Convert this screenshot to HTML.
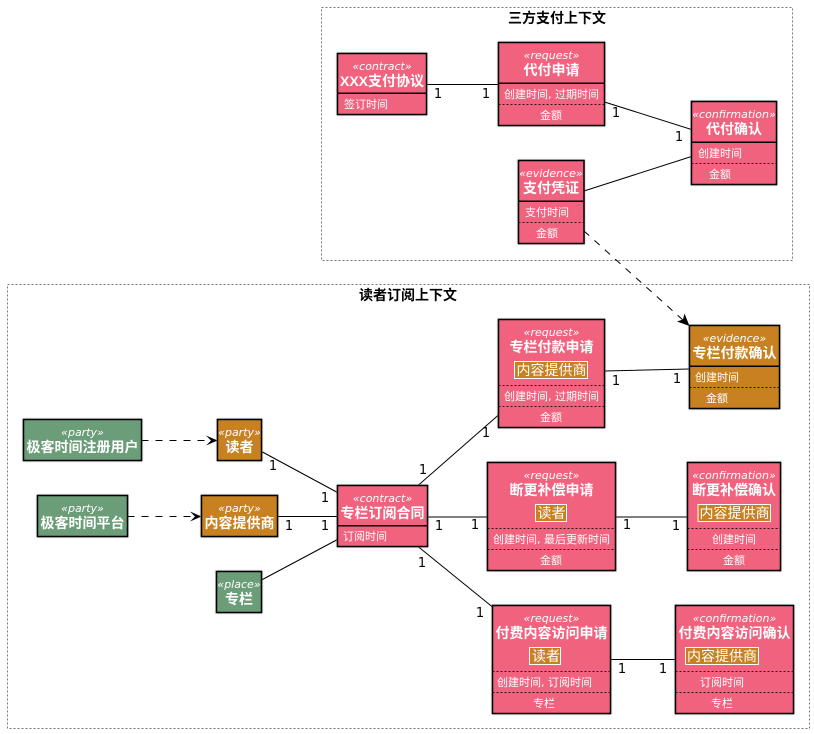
<!DOCTYPE html>
<html><head><meta charset="utf-8"><style>
html,body{margin:0;padding:0;background:#fff;width:814px;height:734px;overflow:hidden}
svg{display:block}
text{font-family:"DejaVu Sans","WenQuanYi Zen Hei","Noto Sans CJK SC",sans-serif;text-anchor:middle}
.s{font-size:11px;font-style:italic;fill:#fff}
.t{font-size:14px;font-weight:bold;fill:#fff}
.a{font-size:11px;fill:#fff}
.tg{font-size:14px;fill:#fff}
.n{font-size:13px;fill:#000}
.f{font-size:14px;font-weight:bold;fill:#000}
rect.p{fill:#F1627E;stroke:#000;stroke-width:1.5;filter:drop-shadow(0 0 .7px #777)}
rect.o{fill:#C88121;stroke:#000;stroke-width:1.5;filter:drop-shadow(0 0 .7px #777)}
rect.g{fill:#6B9D78;stroke:#000;stroke-width:1.5;filter:drop-shadow(0 0 .7px #777)}
rect.h{fill:#C88121;stroke:#fff;stroke-width:1}
.d{stroke:#000;stroke-width:1.5;transform:translateY(.25px)}
.q{stroke:#000;stroke-width:1;stroke-dasharray:2 2;transform:translateY(.5px);opacity:.8}
.l{stroke:#000;stroke-width:1;fill:none}
.x{stroke:#000;stroke-width:1;stroke-dasharray:7 7;fill:none}
.fr{fill:none;stroke:#777;stroke-width:1;stroke-dasharray:2 2}
</style></head><body>
<svg width="814" height="734" viewBox="0 0 814 734" xmlns="http://www.w3.org/2000/svg">
<rect class="fr" x="321.5" y="7.5" width="471" height="253"/>
<text class="f" x="557" y="23">三方支付上下文</text>
<rect class="fr" x="7.5" y="284.5" width="802" height="444"/>
<text class="f" x="408" y="300">读者订阅上下文</text>

<!-- connectors -->
<path class="l" d="M426.5 84.5H498.5M604.5 102L691.5 129.5M584 191L691.5 156.5M604.5 371L689.5 369M418 485.5L498.5 415M427.5 517H487.5M615.5 517H687.5M418 546.5L492.5 607M610.5 659.5H675.5M261.5 451.5L337.5 492.5M277.5 516.5H337.5M261.5 580L337.5 539.5"/>
<path class="x" d="M584 231L684 321M141.5 440.5H212M127.5 516.5H196"/>
<path d="M689.5 326L677 321.5L683 319.5L684.5 313.5Z" fill="#000"/>
<path d="M217.5 440.5L206 435.5L211 440.5L206 445.5Z" fill="#000"/>
<path d="M201.5 516.5L190 511.5L195 516.5L190 521.5Z" fill="#000"/>

<!-- XXX支付协议 -->
<rect class="p" x="337.5" y="53.5" width="89" height="61"/>
<line class="d" x1="337.5" y1="93" x2="426.5" y2="93"/>
<text class="s" x="382" y="70">«contract»</text>
<text class="t" x="382" y="86"><tspan font-family="'Liberation Sans'">XXX</tspan>支付协议</text>
<text class="a" x="366" y="108">签订时间</text>

<!-- 代付申请 -->
<rect class="p" x="498.5" y="42.5" width="106" height="83"/>
<line class="d" x1="498.5" y1="83" x2="604.5" y2="83"/>
<line class="q" x1="498.5" y1="104" x2="604.5" y2="104"/>
<text class="s" x="551.5" y="59">«request»</text>
<text class="t" x="551.5" y="75">代付申请</text>
<text class="a" x="551.5" y="98">创建时间, 过期时间</text>
<text class="a" x="551" y="119">金额</text>

<!-- 代付确认 -->
<rect class="p" x="691.5" y="101.5" width="85" height="83"/>
<line class="d" x1="691.5" y1="142" x2="776.5" y2="142"/>
<line class="q" x1="691.5" y1="163" x2="776.5" y2="163"/>
<text class="s" x="734" y="118">«confirmation»</text>
<text class="t" x="734" y="134">代付确认</text>
<text class="a" x="720" y="157">创建时间</text>
<text class="a" x="720" y="178">金额</text>

<!-- 支付凭证 -->
<rect class="p" x="518.5" y="160.5" width="65.5" height="83"/>
<line class="d" x1="518.5" y1="201" x2="584" y2="201"/>
<line class="q" x1="518.5" y1="222" x2="584" y2="222"/>
<text class="s" x="551" y="177">«evidence»</text>
<text class="t" x="551" y="193">支付凭证</text>
<text class="a" x="547" y="216">支付时间</text>
<text class="a" x="547" y="237">金额</text>

<!-- 专栏付款申请 -->
<rect class="p" x="498.5" y="319.5" width="106" height="108"/>
<line class="q" x1="498.5" y1="385" x2="604.5" y2="385"/>
<line class="q" x1="498.5" y1="406" x2="604.5" y2="406"/>
<text class="s" x="551.5" y="336">«request»</text>
<text class="t" x="551.5" y="352">专栏付款申请</text>
<rect class="h" x="514.5" y="361.5" width="73" height="17"/>
<text class="tg" x="551.5" y="375">内容提供商</text>
<text class="a" x="551.5" y="400">创建时间, 过期时间</text>
<text class="a" x="551" y="421">金额</text>

<!-- 专栏付款确认 -->
<rect class="o" x="689.5" y="325.5" width="90" height="83"/>
<line class="d" x1="689.5" y1="366" x2="779.5" y2="366"/>
<line class="q" x1="689.5" y1="387" x2="779.5" y2="387"/>
<text class="s" x="734.5" y="342">«evidence»</text>
<text class="t" x="734.5" y="358">专栏付款确认</text>
<text class="a" x="717" y="381">创建时间</text>
<text class="a" x="717" y="402">金额</text>

<!-- 断更补偿申请 -->
<rect class="p" x="487.5" y="462.5" width="128" height="108"/>
<line class="q" x1="487.5" y1="528" x2="615.5" y2="528"/>
<line class="q" x1="487.5" y1="549" x2="615.5" y2="549"/>
<text class="s" x="551.5" y="479">«request»</text>
<text class="t" x="551.5" y="495">断更补偿申请</text>
<rect class="h" x="535.5" y="504.5" width="31" height="17"/>
<text class="tg" x="551.5" y="518">读者</text>
<text class="a" x="551.5" y="543">创建时间, 最后更新时间</text>
<text class="a" x="551" y="564">金额</text>

<!-- 断更补偿确认 -->
<rect class="p" x="687.5" y="462.5" width="93" height="108"/>
<line class="q" x1="687.5" y1="528" x2="780.5" y2="528"/>
<line class="q" x1="687.5" y1="549" x2="780.5" y2="549"/>
<text class="s" x="734" y="479">«confirmation»</text>
<text class="t" x="734" y="495">断更补偿确认</text>
<rect class="h" x="698" y="504.5" width="72.5" height="17"/>
<text class="tg" x="734.5" y="518">内容提供商</text>
<text class="a" x="734" y="543">创建时间</text>
<text class="a" x="734" y="564">金额</text>

<!-- 付费内容访问申请 -->
<rect class="p" x="492.5" y="605.5" width="118" height="108"/>
<line class="q" x1="492.5" y1="671" x2="610.5" y2="671"/>
<line class="q" x1="492.5" y1="692" x2="610.5" y2="692"/>
<text class="s" x="551.5" y="622">«request»</text>
<text class="t" x="551.5" y="638">付费内容访问申请</text>
<rect class="h" x="529.5" y="647.5" width="31" height="17"/>
<text class="tg" x="546" y="661">读者</text>
<text class="a" x="544.5" y="686">创建时间, 订阅时间</text>
<text class="a" x="544" y="707">专栏</text>

<!-- 付费内容访问确认 -->
<rect class="p" x="675.5" y="605.5" width="118" height="108"/>
<line class="q" x1="675.5" y1="671" x2="793.5" y2="671"/>
<line class="q" x1="675.5" y1="692" x2="793.5" y2="692"/>
<text class="s" x="734.5" y="622">«confirmation»</text>
<text class="t" x="734.5" y="638">付费内容访问确认</text>
<rect class="h" x="685.5" y="647.5" width="73" height="17"/>
<text class="tg" x="722" y="661">内容提供商</text>
<text class="a" x="722" y="686">订阅时间</text>
<text class="a" x="722" y="707">专栏</text>

<!-- 专栏订阅合同 -->
<rect class="p" x="337.5" y="485.5" width="90" height="61"/>
<line class="d" x1="337.5" y1="525.5" x2="427.5" y2="525.5"/>
<text class="s" x="382.5" y="502">«contract»</text>
<text class="t" x="382.5" y="518">专栏订阅合同</text>
<text class="a" x="365" y="540">订阅时间</text>

<!-- parties -->
<rect class="g" x="23.5" y="419.5" width="118" height="41"/>
<text class="s" x="82.5" y="436">«party»</text>
<text class="t" x="82.5" y="452">极客时间注册用户</text>
<rect class="o" x="217.5" y="419.5" width="44" height="41"/>
<text class="s" x="239.5" y="436">«party»</text>
<text class="t" x="239.5" y="452">读者</text>
<rect class="g" x="37.5" y="495.5" width="90" height="41"/>
<text class="s" x="82.5" y="512">«party»</text>
<text class="t" x="82.5" y="528">极客时间平台</text>
<rect class="o" x="201.5" y="495.5" width="76" height="41"/>
<text class="s" x="239.5" y="512">«party»</text>
<text class="t" x="239.5" y="528">内容提供商</text>
<rect class="g" x="216.5" y="571.5" width="45" height="41"/>
<text class="s" x="239" y="588">«place»</text>
<text class="t" x="239" y="604">专栏</text>

<!-- multiplicities -->
<text class="n" x="438" y="98">1</text><text class="n" x="486" y="98">1</text>
<text class="n" x="616" y="117">1</text><text class="n" x="679" y="141">1</text>
<text class="n" x="616" y="385">1</text><text class="n" x="677" y="383">1</text>
<text class="n" x="423" y="474">1</text><text class="n" x="486" y="437">1</text>
<text class="n" x="439" y="530">1</text><text class="n" x="475" y="529">1</text>
<text class="n" x="627" y="529">1</text><text class="n" x="676" y="530">1</text>
<text class="n" x="422" y="567">1</text><text class="n" x="480" y="617">1</text>
<text class="n" x="622" y="673">1</text><text class="n" x="663" y="673">1</text>
<text class="n" x="273" y="470">1</text><text class="n" x="325" y="502">1</text>
<text class="n" x="289" y="530">1</text><text class="n" x="325" y="530">1</text>
</svg>
</body></html>
